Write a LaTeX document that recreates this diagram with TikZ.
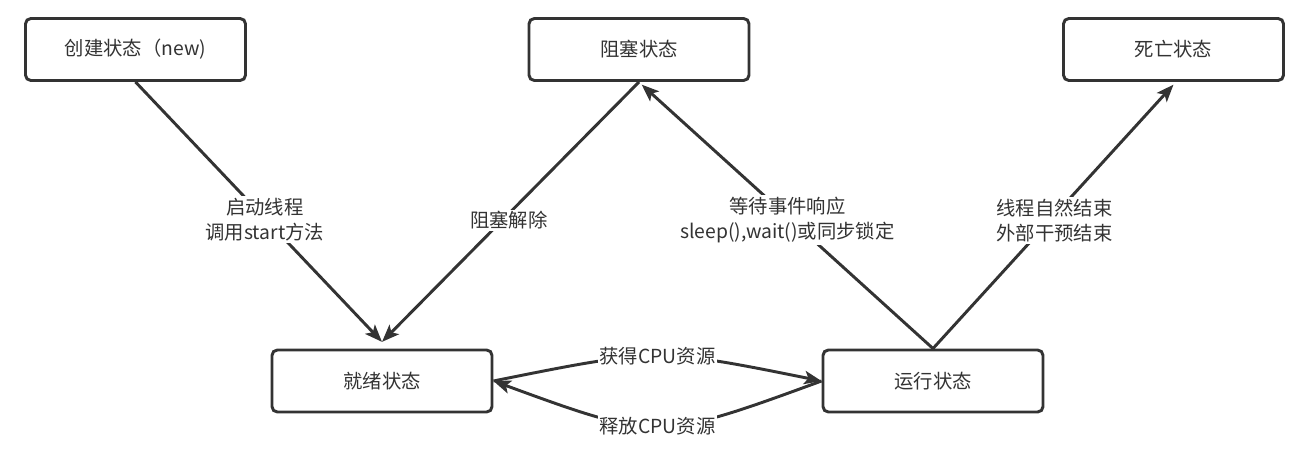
\documentclass[tikz,border=0pt]{standalone}
\usepackage{fontspec}
\setmainfont{Noto Sans CJK SC}
\usetikzlibrary{arrows.meta}
\definecolor{ink}{HTML}{333333}
\begin{document}
\begin{tikzpicture}[x=0.75pt,y=-0.75pt,
  statebox/.style={draw=ink,line width=2.2pt,rounded corners=4pt,minimum width=165pt,minimum height=46.5pt,inner sep=0pt,text=ink,font=\fontsize{14.5}{17}\selectfont},
  conn/.style={draw=ink,line width=2.2pt,-{Stealth[length=13pt,width=10pt,inset=3pt]}},
  lbl/.style={fill=white,text=ink,align=center,inner sep=1.5pt,font=\fontsize{14.5}{18.8}\selectfont}]
\useasboundingbox (0,0) rectangle (1310,460);
\node[statebox] (new) at (135.5,49.5) {创建状态（new)};
\node[statebox] (blocked) at (639,49.5) {阻塞状态};
\node[statebox] (dead) at (1173.5,49.5) {死亡状态};
\node[statebox] (ready) at (382,381) {就绪状态};
\node[statebox] (run) at (933,381) {运行状态};

\draw[conn] (new.south) -- node[lbl,pos=0.53,xshift=-1pt] {启动线程\\调用start方法} ([yshift=5pt]ready.north);
\draw[conn] (blocked.south) -- node[lbl,pos=0.533,xshift=5pt] {阻塞解除} ([yshift=5pt]ready.north);
\draw[conn] (run.north) -- node[lbl,pos=0.486,xshift=-3pt] {等待事件响应\\sleep(),wait()或同步锁定} ([yshift=-2pt,xshift=2pt]blocked.south);
\draw[conn] (run.north) -- node[lbl,pos=0.486,xshift=3.4pt] {线程自然结束\\外部干预结束} ([yshift=-2pt]dead.south);

\draw[conn] (ready.east) .. controls (657.5,348) .. node[lbl,pos=0.5] {获得CPU资源} (run.west);
\draw[conn] (run.west) .. controls (657.5,441) .. node[lbl,pos=0.5] {释放CPU资源} (ready.east);
\end{tikzpicture}
\end{document}
